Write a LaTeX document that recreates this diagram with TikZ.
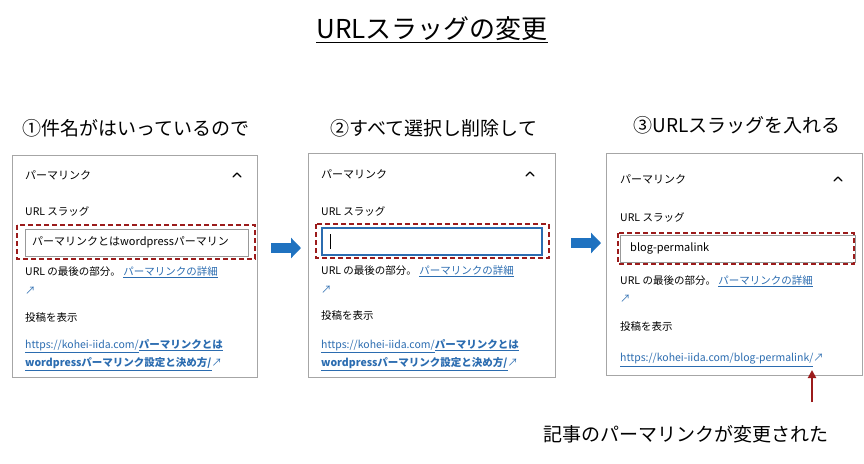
\documentclass[tikz,border=0pt]{standalone}
\usepackage{fontspec}
\setmainfont{Noto Sans CJK JP}
\usetikzlibrary{arrows.meta, positioning}
\definecolor{linkblue}{HTML}{2B6CB0}
\definecolor{slugred}{HTML}{9B1B1B}
\definecolor{arrowblue}{HTML}{1F72C0}
\tikzset{
  panel/.style={draw=gray!70, line width=0.8pt},
  steptitle/.style={font=\fontsize{19}{22}\selectfont, anchor=center},
  txt/.style={font=\fontsize{11}{13}\selectfont, anchor=west, inner sep=0pt},
  small/.style={font=\fontsize{10.5}{12}\selectfont, anchor=west, inner sep=0pt},
  lnk/.style={font=\fontsize{10.5}{12}\selectfont\bfseries, anchor=west, inner sep=0pt, text=linkblue},
  inbox/.style={draw=gray!80, line width=0.6pt},
  chev/.style={line width=1.1pt, line cap=round, line join=round},
  slug/.style={draw=slugred, line width=1.4pt, dash pattern=on 5pt off 3pt},
  bluearrow/.style={-{Triangle[length=10pt,width=20pt]}, line width=10pt, draw=arrowblue},
  redarrow/.style={-{Triangle[length=8pt,width=8pt]}, line width=2pt, draw=slugred}
}
\newcommand{\lk}[1]{\underline{#1}}
\begin{document}
\begin{tikzpicture}[x=1pt, y=-1pt]
  \useasboundingbox (0,0) rectangle (864,463);
  % title
  \node[font=\fontsize{26}{30}\selectfont] (title) at (432,30) {\underline{URLスラッグの変更}};
  % step titles
  \node[steptitle] (t1) at (136,128) {①件名がはいっているので};
  \node[steptitle] (t2) at (434,128) {②すべて選択し削除して};
  \node[steptitle] (t3) at (737,125) {③URLスラッグを入れる};

  % panel 1
  \draw[panel] (12,155) rectangle (257,377);
  \node[txt] (p1a) at (25,175) {パーマリンク};
  \draw[chev] (233,177) -- (237,173) -- (241,177);
  \node[small] (p1b) at (25,211) {URL スラッグ};
  \draw[inbox] (25,229) rectangle (248,256);
  \node[txt] (p1in) at (32,242) {パーマリンクとはwordpressパーマリン};
  \draw[slug] (17,225) rectangle (255,259);
  \node[small] (p1d) at (25,272) {URL の最後の部分。 \textcolor{linkblue}{\lk{パーマリンクの詳細}}};
  \node[small, text=linkblue] (p1e) at (25,291) {↗};
  \node[small] (p1f) at (25,318) {投稿を表示};
  \node[lnk] (p1g) at (25,346) {\lk{\mdseries https://kohei-iida.com/}\lk{パーマリンクとは}};
  \node[lnk] (p1h) at (25,364) {\lk{wordpressパーマリンク設定と決め方/}\mdseries↗};

  % panel 2
  \draw[panel] (308,153) rectangle (555,377);
  \node[txt] (p2a) at (321,174) {パーマリンク};
  \draw[chev] (526,176) -- (530,172) -- (534,176);
  \node[small] (p2b) at (321,211) {URL スラッグ};
  \draw[draw=linkblue, line width=1.2pt] (322,228) rectangle (542,255);
  \draw[line width=0.6pt] (330,234) -- (330,249);
  \draw[slug] (316,224) rectangle (549,258);
  \node[small] (p2d) at (321,271) {URL の最後の部分。 \textcolor{linkblue}{\lk{パーマリンクの詳細}}};
  \node[small, text=linkblue] (p2e) at (321,290) {↗};
  \node[small] (p2f) at (321,316) {投稿を表示};
  \node[lnk] (p2g) at (321,346) {\lk{\mdseries https://kohei-iida.com/}\lk{パーマリンクとは}};
  \node[lnk] (p2h) at (321,364) {\lk{wordpressパーマリンク設定と決め方/}\mdseries↗};

  % panel 3
  \draw[panel] (606,153) rectangle (862,375);
  \node[txt] (p3a) at (620,179) {パーマリンク};
  \draw[chev] (834,181) -- (838,177) -- (842,181);
  \node[small] (p3b) at (620,217) {URL スラッグ};
  \draw[inbox] (620,235) rectangle (855,262);
  \node[txt] (p3in) at (630,248) {blog-permalink};
  \draw[slug] (618,233) rectangle (854,264);
  \node[small] (p3d) at (620,281) {URL の最後の部分。 \textcolor{linkblue}{\lk{パーマリンクの詳細}}};
  \node[small, text=linkblue] (p3e) at (620,299) {↗};
  \node[small] (p3f) at (620,327) {投稿を表示};
  \node[small, text=linkblue] (p3g) at (620,360) {\lk{https://kohei-iida.com/blog-permalink/}↗};

  % arrows
  \coordinate (a1s) at (271,248); \coordinate (a1e) at (301,248);
  \coordinate (a2s) at (571,243); \coordinate (a2e) at (601,243);
  \draw[bluearrow] (a1s) -- (a1e);
  \draw[bluearrow] (a2s) -- (a2e);
  \node[font=\fontsize{19}{22}\selectfont] (note) at (686,434) {記事のパーマリンクが変更された};
  \coordinate (r1) at (812,402); \coordinate (r2) at (812,370);
  \draw[redarrow] (r1) -- (r2);
\end{tikzpicture}
\end{document}
